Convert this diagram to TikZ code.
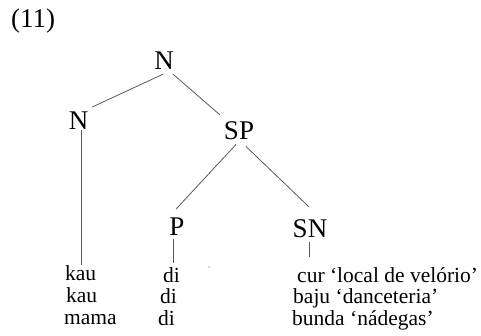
\documentclass[tikz,border=0pt]{standalone}
\usepackage{fontspec}
\setmainfont{Liberation Serif}
\begin{document}
\begin{tikzpicture}[x=1pt,y=-1pt,
  cat/.style={font=\fontsize{27}{27}\selectfont, inner sep=0pt, anchor=base},
  leaf/.style={font=\fontsize{21.5}{22}\selectfont, inner sep=0pt, anchor=base west},
  edge/.style={draw=black!65, line width=0.8pt}]
\useasboundingbox (0,0) rectangle (481,335);
% label
\node[font=\fontsize{27}{27}\selectfont, inner sep=0pt, anchor=base west] (ex) at (11,27) {(11)};
% categories
\node[cat] (top) at (164,69) {N};
\node[cat] (ln) at (78.5,129) {N};
\node[cat] (sp) at (239,139) {SP};
\node[cat] (p) at (177,235) {P};
\node[cat] (sn) at (310,237) {SN};
% leaves
\node[leaf] (kau1) at (65,280) {kau};
\node[leaf] (kau2) at (66,302) {kau};
\node[leaf] (mama) at (64,324) {mama};
\node[leaf] (di1) at (163,282) {di};
\node[leaf] (di2) at (160,303) {di};
\node[leaf] (di3) at (158,325) {di};
\node[leaf] (cur) at (297,282) {cur ‘local de velório’};
\node[leaf] (baju) at (293,303) {baju ‘danceteria’};
\node[leaf] (bunda) at (292,325) {bunda ‘nádegas’};
% connectors
\draw[edge] ([xshift=-1pt,yshift=-5pt]top.south) -- ([xshift=13.5pt,yshift=4pt]ln.north);
\draw[edge] ([xshift=9pt,yshift=-5pt]top.south) -- ([xshift=-19pt,yshift=6pt]sp.north);
\coordinate (c1) at ([xshift=2.5pt,yshift=-1pt]ln.south);
\draw[edge] (c1) -- (c1 |- kau1.north);
\draw[edge] ([xshift=-3pt,yshift=-5pt]sp.south) -- ([xshift=-1pt,yshift=8pt]p.north);
\draw[edge] ([xshift=7pt,yshift=-7pt]sp.south) -- ([xshift=-1pt,yshift=12pt]sn.north);
\coordinate (c2) at ([xshift=-4pt,yshift=-4pt]p.south);
\coordinate (c2e) at ([yshift=4pt]c2 |- di1.north);
\draw[edge] (c2) -- (c2e);
\coordinate (c3) at ([xshift=-1pt,yshift=-5pt]sn.south);
\coordinate (c3e) at ([yshift=10pt]c3 |- cur.north);
\draw[edge] (c3) -- (c3e);
% stray dot
\fill[black!60] (209,267) circle (0.6pt);
\end{tikzpicture}
\end{document}
